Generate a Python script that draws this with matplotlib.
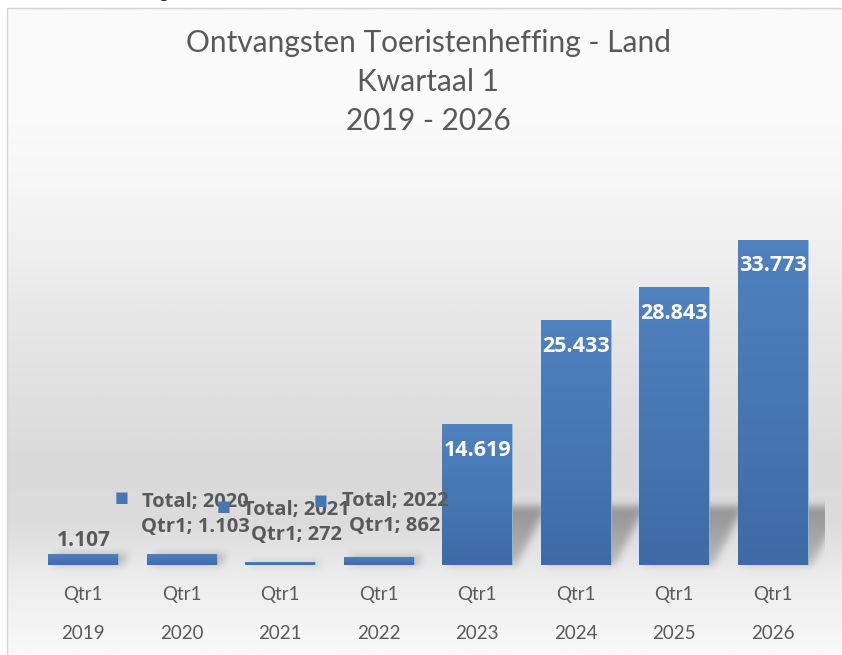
import numpy as np
import matplotlib
matplotlib.use("Agg")
import matplotlib.pyplot as plt
from matplotlib.colors import LinearSegmentedColormap
from matplotlib.patches import Rectangle

# ---------------- data ----------------
years = ["2019", "2020", "2021", "2022", "2023", "2024", "2025", "2026"]
quarters = ["Qtr1", "Qtr1", "Qtr1", "Qtr1", "Qtr1", "Qtr1", "Qtr1", "Qtr1"]
values = [1107, 1103, 272, 862, 14619, 25433, 28843, 33773]
series_name = "Total"
title_lines = ["Ontvangsten Toeristenheffing - Land", "Kwartaal 1", "2019 - 2026"]


def nl(v):
    return f"{v:,}".replace(",", ".")


W, H = 842, 655
fig = plt.figure(figsize=(W / 100, H / 100), dpi=100)
fig.patch.set_facecolor("white")

GRAY = "#595959"
FONT = ["Lato", "DejaVu Sans"]
LBL_FONT = ["Open Sans", "DejaVu Sans"]

# ---------------- background panel with vertical gradient ----------------
bg_ax = fig.add_axes([7 / W, 0, (W - 7) / W, (H - 8) / H], zorder=0)
stops = [(0.0, "#fafafa"), (0.15, "#fbfbfb"), (0.28, "#f6f6f6"), (0.45, "#e9e9e9"),
         (0.70, "#dadada"), (0.80, "#dcdcdc"), (0.88, "#ececec"), (1.0, "#f9f9f9")]
bg_cmap = LinearSegmentedColormap.from_list("bg", stops)
grad = np.linspace(0, 1, 512).reshape(-1, 1)
bg_ax.imshow(grad, aspect="auto", cmap=bg_cmap, extent=(0, 1, 0, 1), origin="upper")
bg_ax.set_xlim(0, 1)
bg_ax.set_ylim(0, 1)
bg_ax.axis("off")
fig.patches.append(Rectangle((7 / W, -0.01), 1.0, (H - 8) / H + 0.01, transform=fig.transFigure,
                             fill=False, edgecolor="#d4d4d4", linewidth=1.0, zorder=0.5))

# ---------------- main axes ----------------
ax = fig.add_axes([34 / W, (H - 565) / H, 788 / W, (565 - 180) / H], zorder=2)
ax.patch.set_alpha(0)
x = np.arange(len(values))
bars = ax.bar(x, values, width=0.71, color="#4677b4", edgecolor="#a9c1e0", linewidth=0.5, zorder=2)

bar_cmap = LinearSegmentedColormap.from_list("bar", ["#3e6ba6", "#5082bf"])
for b in bars:
    x0, y0 = b.get_x(), b.get_y()
    im = ax.imshow(np.linspace(0, 1, 256).reshape(-1, 1), cmap=bar_cmap, aspect="auto",
                   extent=(x0, x0 + b.get_width(), y0, y0 + b.get_height()), origin="lower", zorder=2.1)
    im.set_clip_path(b)
ax.set_xlim(-0.5, len(values) - 0.5)
ax.set_ylim(0, 40000)

for s in ax.spines.values():
    s.set_visible(False)
ax.set_yticks([])
ax.set_xticks(x)
ax.set_xticklabels([f"{q}\n{y}" for q, y in zip(quarters, years)], fontsize=13.5,
                   color=GRAY, family=FONT, linespacing=2.6)
ax.tick_params(axis="x", length=0, pad=15)

# ---------------- data labels ----------------
for i, v in enumerate(values):
    if i == 0:
        ax.annotate(nl(v), (x[i], v), xytext=(0, 14), textcoords="offset pixels",
                    ha="center", va="center", fontsize=15, fontweight="bold",
                    color=GRAY, family=LBL_FONT, zorder=5)
    elif v > 5000:
        ax.annotate(nl(v), (x[i], v), xytext=(0, -26), textcoords="offset pixels",
                    ha="center", va="center", fontsize=15.5, fontweight="bold",
                    color="white", family=LBL_FONT, zorder=5)

# labels with legend keys (series; category; value), offsets in pixels from the bar top
text_off = {1: (14, 40), 2: (16, 40), 3: (16, 43)}
key_off = {1: (-60, 57), 2: (-57, 56), 3: (-58, 56)}
for i in text_off:
    v = values[i]
    ax.annotate(f"{series_name}; {years[i]}\n{quarters[i]}; {nl(v)}", (x[i], v),
                xytext=text_off[i], textcoords="offset pixels",
                ha="center", va="center", multialignment="center",
                fontsize=14.5, fontweight="bold", color=GRAY, family=LBL_FONT,
                linespacing=1.35, zorder=5)
    ax.annotate("\u25A0", (x[i], v), xytext=key_off[i], textcoords="offset pixels",
                ha="center", va="center", fontsize=10.5, color="#4677b4",
                family="DejaVu Sans", zorder=5)

# ---------------- title ----------------
for line, yb in zip(title_lines, [52, 91, 130]):
    fig.text(428 / W, 1 - yb / H, line, ha="center", va="baseline", fontsize=21.5,
             color=GRAY, family=FONT, zorder=6)

# partially visible character cut off at the very top
fig.text(163 / W, 1 + 2 / H, "g", ha="center", va="baseline", fontsize=14, color="#222222",
         family=FONT)

# ---------------- soft perspective shadow behind bars ----------------
fig.canvas.draw()
Y = np.arange(H)[:, None].astype(float)
X = np.arange(W)[None, :].astype(float)
mask = np.zeros((H, W))
hs, skew = 58.0, 30.0
for b in bars:
    bb = b.get_window_extent()
    ht = min(bb.height, hs)
    t = (Y - bb.y0) / hs
    inside = (Y >= bb.y0) & (Y <= bb.y0 + ht) & (X >= bb.x0 + 4 + skew * t) & (X <= bb.x1 + 4 + skew * t)
    mask = np.maximum(mask, inside * (0.6 + 0.4 * np.clip(t, 0, 1)))


def box_blur(a, r):
    k = np.ones(2 * r + 1) / (2 * r + 1)
    a = np.apply_along_axis(lambda m: np.convolve(m, k, mode="same"), 0, a)
    a = np.apply_along_axis(lambda m: np.convolve(m, k, mode="same"), 1, a)
    return a


mask = box_blur(box_blur(mask, 4), 4)
axbb = ax.get_window_extent()
mask[:, int(axbb.x1) + 3:] = 0
rgba = np.zeros((H, W, 4))
rgba[..., :3] = 0.25
rgba[..., 3] = 0.45 * mask
sh_ax = fig.add_axes([0, 0, 1, 1], zorder=1)
sh_ax.imshow(rgba, origin="lower", extent=(0, W, 0, H), aspect="auto", interpolation="bilinear")
sh_ax.set_xlim(0, W)
sh_ax.set_ylim(0, H)
sh_ax.axis("off")

fig.savefig("out.png", dpi=100)
